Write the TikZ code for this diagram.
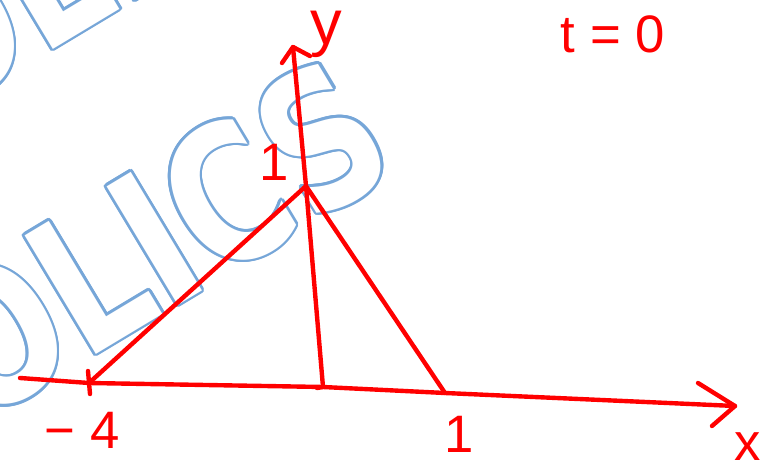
\documentclass[tikz,border=0pt]{standalone}
\usepackage{fontspec}
\usepackage{graphicx}
\setmainfont{Liberation Sans}
\newfontfamily\markfont{DejaVu Sans}
\usetikzlibrary{arrows.meta}
\definecolor{InkRed}{RGB}{255, 0, 0}
\definecolor{MarkBlue}{RGB}{118, 166, 216}
\newcommand{\markword}{\scalebox{0.79}[1]{OLICS}}

\begin{document}
\begin{tikzpicture}[x=0.02cm, y=-0.02cm,
    every node/.style={text=InkRed, font=\fontsize{30}{30}\selectfont, inner sep=0pt},
    ink/.style={draw=InkRed, line width=2.5pt, line cap=round, line join=round},
    watermark/.style={text=MarkBlue, rotate=31, anchor=base west, font=\markfont\bfseries\fontsize{108}{108}\selectfont}]
  \useasboundingbox (0,0) rectangle (769,466);
  \foreach \a in {0,22.5,...,337.5} {
    \node[watermark, shift={(\a:1.5pt)}] at (-68,122) {\markword};
    \node[watermark, shift={(\a:1.5pt)}] at (-25,427) {\markword};
  }
  \node[watermark, text=white] (markA) at (-68,122) {\markword};
  \node[watermark, text=white] (markB) at (-25,427) {\markword};
  \coordinate (xs) at (20,378);
  \coordinate (A) at (89,383);
  \coordinate (H) at (323,387);
  \coordinate (hk) at (317,388);
  \coordinate (B) at (445,393);
  \coordinate (xe) at (735,406);
  \coordinate (xa1) at (698,383);
  \coordinate (xa2) at (712,426);
  \coordinate (V) at (306,186);
  \coordinate (yt) at (293,47);
  \coordinate (ya1) at (282,63);
  \coordinate (ya2) at (310,56);
  \coordinate (ta) at (88,371);
  \coordinate (tb) at (90,394);
  \draw[ink] (xs) -- (A) -- (H) -- (B) -- (xe);
  \draw[ink] (xa1) -- (xe) -- (xa2);
  \draw[ink] (hk) -- (H) -- (V) -- (yt);
  \draw[ink] (ya1) -- (yt) -- (ya2);
  \draw[ink] (A) -- (V) -- (B);
  \draw[ink] (ta) -- (tb);
  \node[font=\fontsize{36}{36}\selectfont] (ylab) at (326,34) {y};
  \node (tlab) at (613,34) {t = 0};
  \node (ylab1) at (274,162) {1};
  \node (xlab4) at (82,430) {− 4};
  \node (xlab1) at (459,434) {1};
  \node (xlab) at (748,447) {x};
\end{tikzpicture}
\end{document}
